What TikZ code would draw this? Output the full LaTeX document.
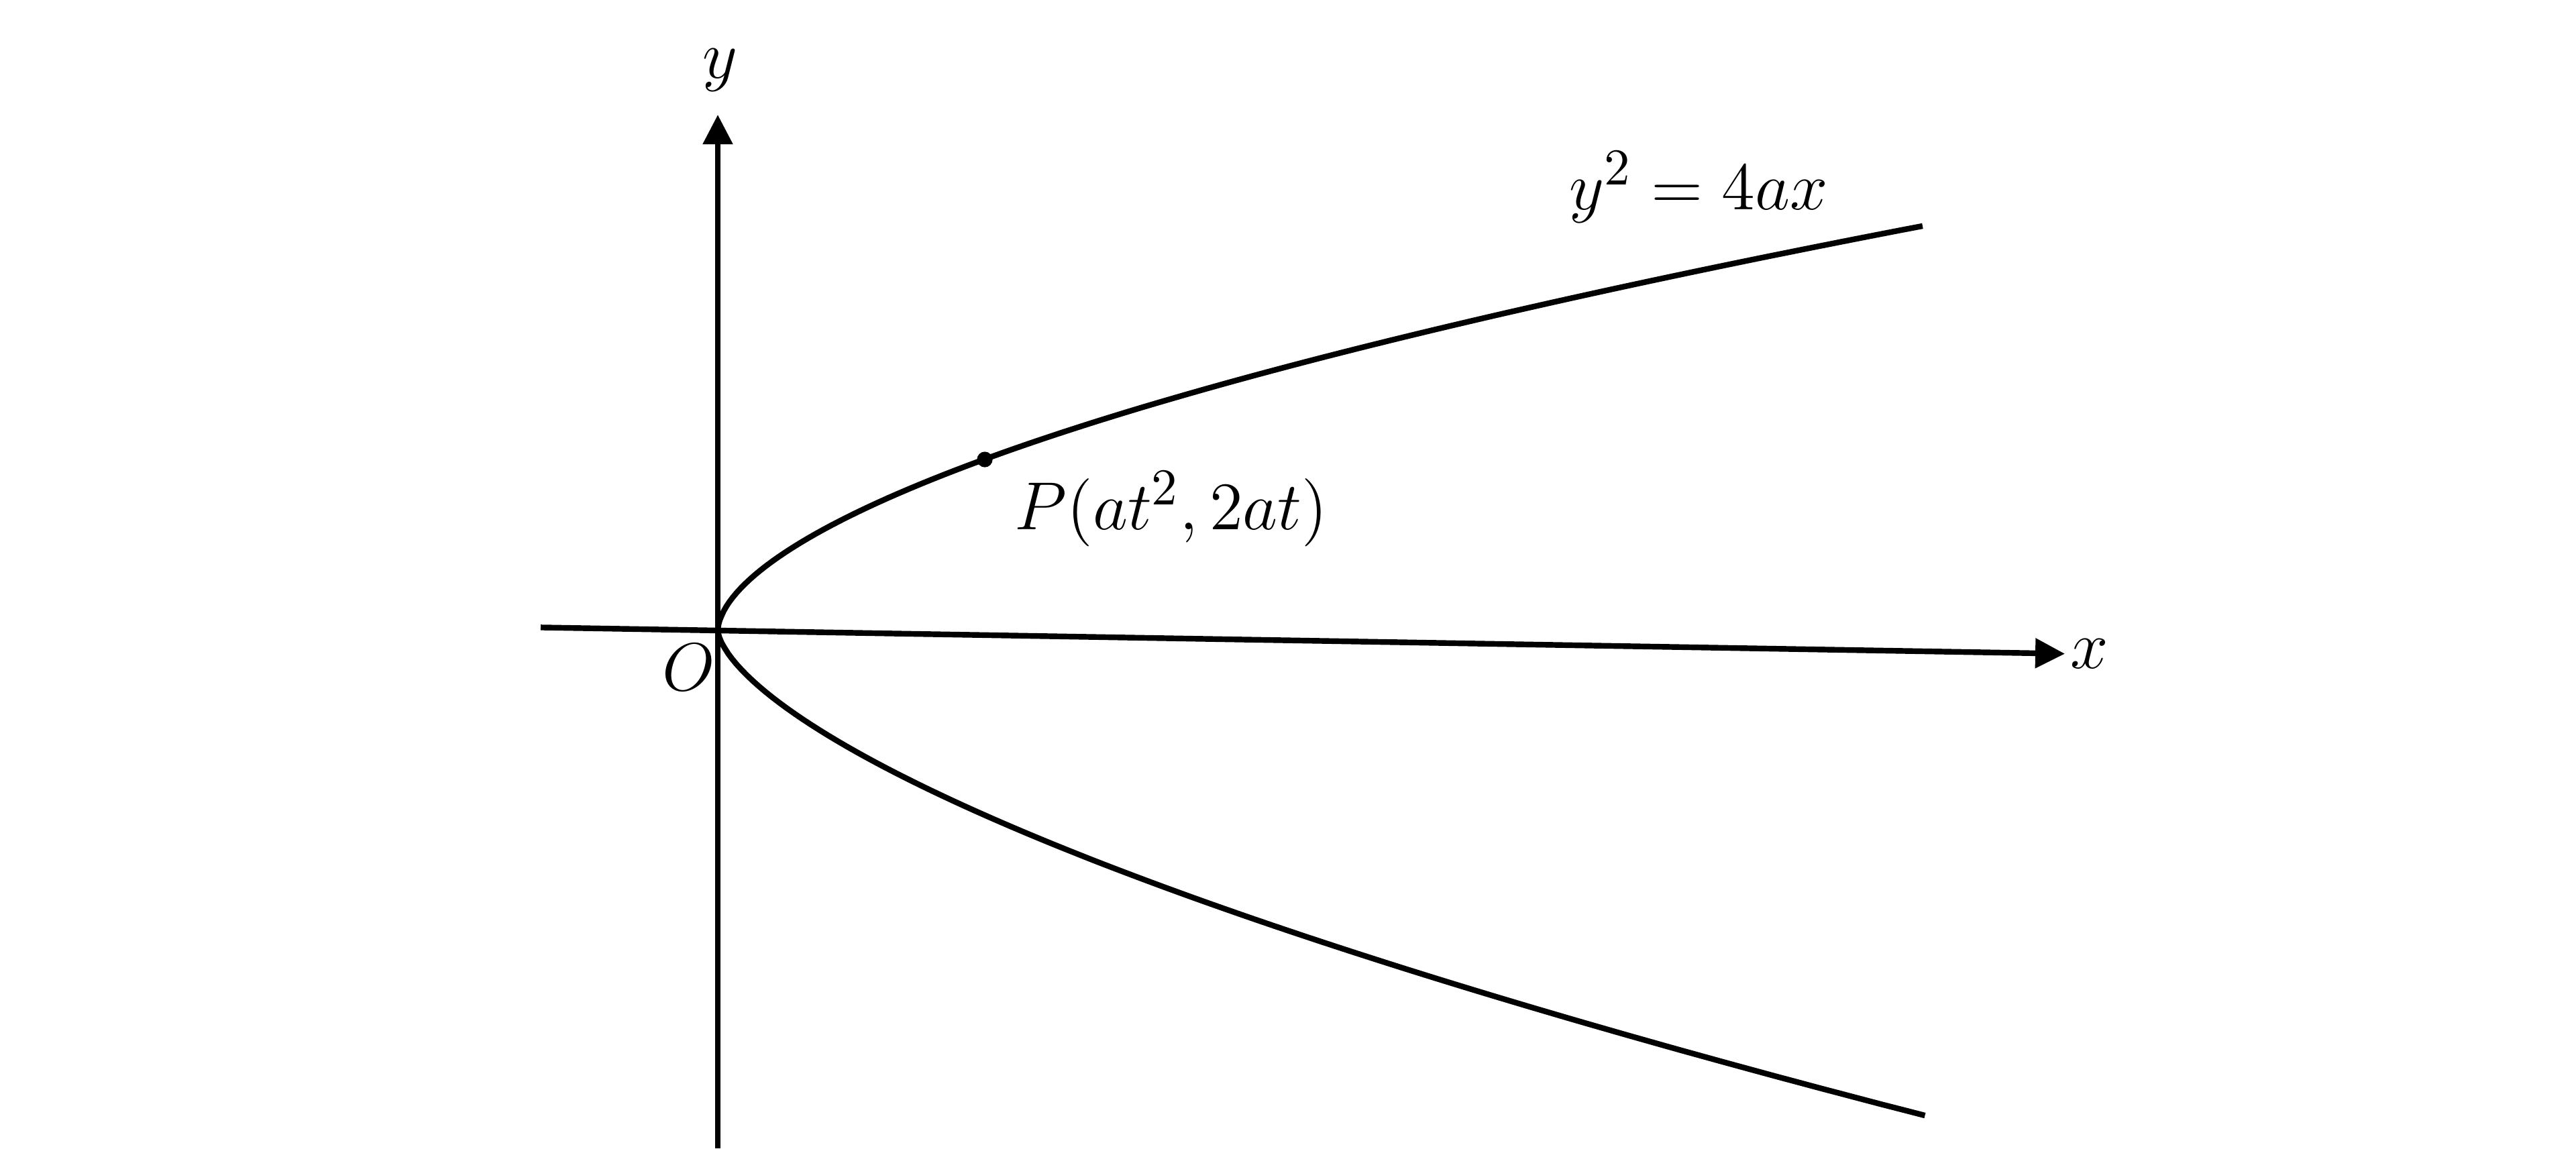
\documentclass[tikz,border=0pt]{standalone}
\usepackage{amsmath}
\usepackage{xcolor}
\usepackage{tikz}
\usetikzlibrary{arrows.meta}

\tikzset{
    axis/.style = {line width = 1.2pt, -{Triangle[width = 0.215cm, length = 0.22cm]}},
    curve/.style = {line width = 1.2pt, line join = round},
    lab/.style = {inner sep = 0pt, font = \fontsize{15.5}{19}\selectfont}
}

\begin{document}
\begin{tikzpicture}
        \useasboundingbox (-5.35, -3.86) rectangle (13.85, 4.70);

        \coordinate (O) at (0, 0);
        \coordinate (xstart) at (-1.32, 0.023);
        \coordinate (xtip) at (10.04, -0.173);
        \coordinate (ystart) at (0, -3.86);
        \coordinate (ytip) at (0, 3.845);
        \coordinate (P) at (1.99, 1.275);

        % axes
        \draw[axis] (xstart) -- (xtip);
        \draw[axis] (ystart) -- (ytip);

        % the curve, lower branch then upper branch
        \draw[curve] plot[variable = \t, domain = -3.615:-0.01, samples = 90]
                ({((-\t)/0.886)^1.5625}, \t)
            -- (O)
            -- plot[variable = \t, domain = 0.01:3.016, samples = 90]
                ({(\t/0.8626)^1.754}, \t);

        \fill (P) circle (0.058);

        \node[lab] (xlab) at (10.225, -0.175) {$x$};
        \node[lab] (ylab) at (0.015, 4.175) {$y$};
        \node[lab] (Olab) at (-0.215, -0.275) {$O$};
        \node[lab] (Plab) at (3.38, 0.905) {$P(at^2, 2at)$};
        \node[lab] (curvelab) at (7.31, 3.305) {$y^2 = 4ax$};
        \end{tikzpicture}
\end{document}
